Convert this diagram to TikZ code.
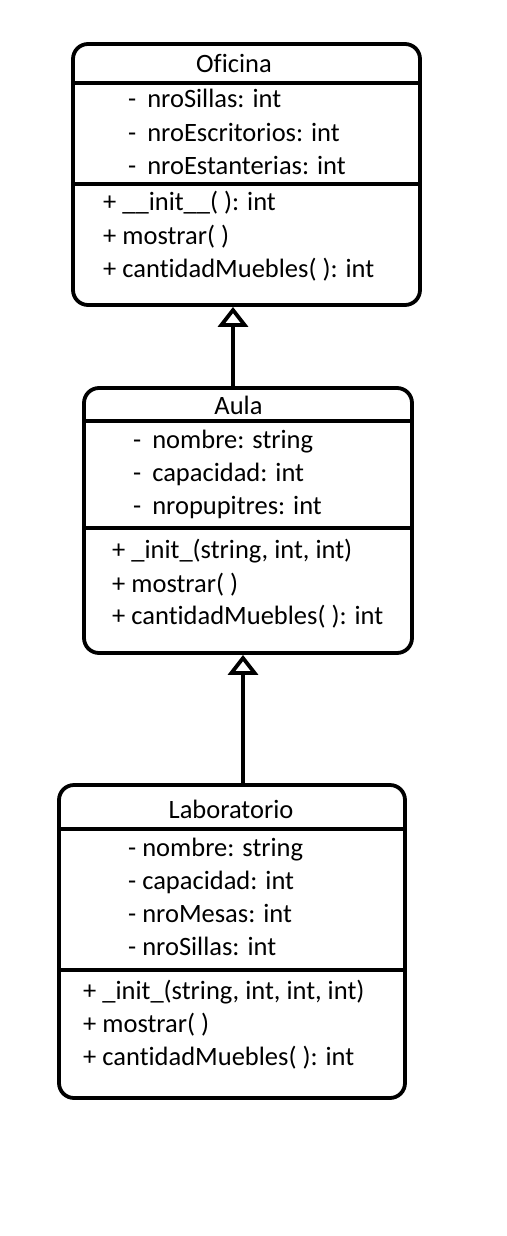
\documentclass[tikz,border=0pt]{standalone}
\usepackage{fontspec}
\setmainfont[Ligatures={NoCommon,NoRare}]{Carlito}
\usetikzlibrary{arrows.meta}
\begin{document}
\begin{tikzpicture}[x=1pt,y=-1pt,
  umlbox/.style={draw=black,line width=3.8pt,rounded corners=15pt,inner sep=0pt,fill=none},
  divider/.style={draw=black,line width=3.8pt},
  txt/.style={inner sep=0pt,anchor=base west,font=\fontsize{26.5}{30}\selectfont},
  ttl/.style={inner sep=0pt,anchor=base,font=\fontsize{26.5}{30}\selectfont},
  inherit/.style={draw=black,line width=3.8pt,-{Triangle[open,width=30pt,length=20pt,fill=white]}}
]
\useasboundingbox (0,0) rectangle (506,1236);
\fill[white] (0,0) rectangle (506,1236);

% Oficina
\node[umlbox,minimum width=347pt,minimum height=261pt] (ofi) at (246.5,174.5) {};
\draw[divider] (ofi.west |- 0,83) -- (ofi.east |- 0,83);
\draw[divider] (ofi.west |- 0,184) -- (ofi.east |- 0,184);
\node[ttl] (ofit) at (234,73) {Oficina};
\node[txt] (ofa1) at (128,108) {-\hspace{11pt}nroSillas: int};
\node[txt] (ofa2) at (128,141) {-\hspace{11pt}nroEscritorios: int};
\node[txt] (ofa3) at (128,174) {-\hspace{11pt}nroEstanterias: int};
\node[txt] (ofm1) at (103,210) {+ \_\_init\_\_( ): int};
\node[txt] (ofm2) at (103,244) {+ mostrar( )};
\node[txt] (ofm3) at (103,277) {+ cantidadMuebles( ): int};

% Aula
\node[umlbox,minimum width=328pt,minimum height=265pt] (aula) at (248,520.5) {};
\draw[divider] (aula.west |- 0,421) -- (aula.east |- 0,421);
\draw[divider] (aula.west |- 0,528) -- (aula.east |- 0,528);
\node[ttl] (aulat) at (238.5,414) {Aula};
\node[txt] (aa1) at (133,448) {-\hspace{11pt}nombre: string};
\node[txt] (aa2) at (133,481) {-\hspace{11pt}capacidad: int};
\node[txt] (aa3) at (133,514) {-\hspace{11pt}nropupitres: int};
\node[txt] (am1) at (112,558) {+ \_init\_(string, int, int)};
\node[txt] (am2) at (112,592) {+ mostrar( )};
\node[txt] (am3) at (112,624) {+ cantidadMuebles( ): int};

% Laboratorio
\node[umlbox,minimum width=346pt,minimum height=313pt] (lab) at (232,941.5) {};
\draw[divider] (lab.west |- 0,829) -- (lab.east |- 0,829);
\draw[divider] (lab.west |- 0,970) -- (lab.east |- 0,970);
\node[ttl] (labt) at (231,818) {Laboratorio};
\node[txt] (la1) at (128,856) {- nombre: string};
\node[txt] (la2) at (128,889) {- capacidad: int};
\node[txt] (la3) at (128,922) {- nroMesas: int};
\node[txt] (la4) at (128,955) {- nroSillas: int};
\node[txt] (lm1) at (83,999) {+ \_init\_(string, int, int, int)};
\node[txt] (lm2) at (83,1032) {+ mostrar( )};
\node[txt] (lm3) at (83,1065) {+ cantidadMuebles( ): int};

% Generalisation arrows
\coordinate (x1) at (233,0);
\coordinate (x2) at (243,0);
\draw[inherit] (aula.north -| x1) -- (ofi.south -| x1);
\draw[inherit] (lab.north -| x2) -- (aula.south -| x2);
\end{tikzpicture}
\end{document}
